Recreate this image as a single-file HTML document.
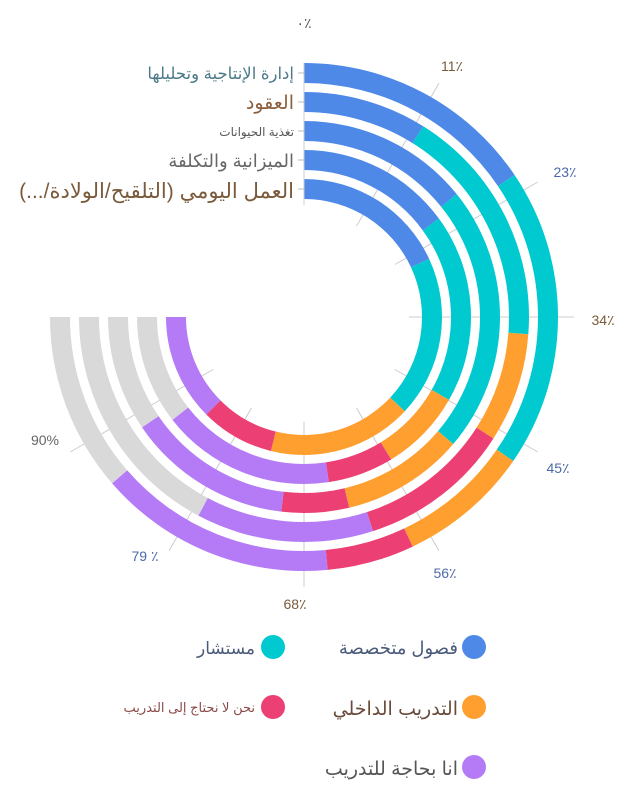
<!DOCTYPE html>
<html><head><meta charset="utf-8"><style>
body{margin:0;background:#fff;}
svg text{font-family:"Liberation Sans","Noto Sans CJK SC","DejaVu Sans",sans-serif;}
</style></head><body>
<svg id="s" width="639" height="797" viewBox="0 0 639 797" xmlns="http://www.w3.org/2000/svg">
<g id="ticks"></g>
<g id="bars"></g>
<line x1="304" y1="63" x2="304" y2="205" stroke="#ccc" stroke-width="1"/>
<g stroke="#bbb"><line x1="298" y1="73" x2="304" y2="73"/><line x1="298" y1="102" x2="304" y2="102"/><line x1="298" y1="131" x2="304" y2="131"/><line x1="298" y1="160" x2="304" y2="160"/><line x1="298" y1="189" x2="304" y2="189"/></g>
<g text-anchor="start" direction="rtl">
<text x="294" y="79" font-size="16.5" fill="#4d7a8a">إدارة الإنتاجية وتحليلها</text>
<text x="294" y="109" font-size="19" fill="#8b5e3c">العقود</text>
<text x="294" y="136" font-size="12" fill="#555">تغذية الحيوانات</text>
<text x="294" y="167" font-size="18" fill="#666">الميزانية والتكلفة</text>
<text x="294" y="198" font-size="21" fill="#7a5a3a">العمل اليومي (التلقيح/الولادة/...)</text>
</g>
<g font-size="14" text-anchor="middle">
<text x="304" y="28" fill="#555">٠٪</text>
<text x="452" y="71" fill="#7a5a3a">11٪</text>
<text x="565" y="177" fill="#4d6aa8">23٪</text>
<text x="603" y="325" fill="#7a5a3a">34٪</text>
<text x="558" y="473" fill="#4d6aa8">45٪</text>
<text x="445" y="578" fill="#4d6aa8">56٪</text>
<text x="295" y="609" fill="#7a5a3a">68٪</text>
<text x="145" y="561" fill="#4d6aa8">79 ٪</text>
<text x="45" y="445" fill="#666">90%</text>
</g>
<g>
<circle cx="474" cy="647" r="12" fill="#4e89e8"/>
<circle cx="273" cy="647" r="12" fill="#00c9d0"/>
<circle cx="474" cy="707" r="12" fill="#ff9f2f"/>
<circle cx="273" cy="707" r="12" fill="#ec3f74"/>
<circle cx="474" cy="767" r="12" fill="#b57bf6"/>
</g>
<g text-anchor="start" direction="rtl">
<text x="458" y="654" font-size="18" fill="#4a5a7a">فصول متخصصة</text>
<text x="255" y="654" font-size="17" fill="#4a5a7a">مستشار</text>
<text x="458" y="715" font-size="19" fill="#6a4a3a">التدريب الداخلي</text>
<text x="255" y="712" font-size="13" fill="#8b4a4a">نحن لا نحتاج إلى التدريب</text>
<text x="458" y="775" font-size="19" fill="#555">انا بحاجة للتدريب</text>
</g>
</svg>
<script>
var cx=304,cy=317,NS="http://www.w3.org/2000/svg";
function pt(r,v){var a=v*2*Math.PI/135;return [cx+r*Math.sin(a),cy-r*Math.cos(a)];}
function arc(r0,r1,v0,v1){var p0=pt(r1,v0),p1=pt(r1,v1),p2=pt(r0,v1),p3=pt(r0,v0);
var large=((v1-v0)*360/135)>180?1:0;
return "M"+p0+" A"+r1+","+r1+" 0 "+large+" 1 "+p1+" L"+p2+" A"+r0+","+r0+" 0 "+large+" 0 "+p3+"Z";}
var cols=["#4e89e8","#00c9d0","#ff9f2f","#ec3f74","#b57bf6","#d9d9d9"];
var rings=[[0,21,46.7,58,65.5,85.9,101.25],[0,12,35.4,46,60.8,78,101.25],[0,19.2,48.9,62.5,70,88.4,101.25],[0,20.2,44.9,55.7,64.3,87,101.25],[0,24.4,49.9,72.7,84.4,101.25,101.25]];
var g=document.getElementById("bars"),t=document.getElementById("ticks");
for(var k=1;k<9;k++){var a=pt(105,k*11.25),b=pt(270,k*11.25);var l=document.createElementNS(NS,"line");
l.setAttribute("x1",a[0]);l.setAttribute("y1",a[1]);l.setAttribute("x2",b[0]);l.setAttribute("y2",b[1]);l.setAttribute("stroke","#ccc");t.appendChild(l);}
for(var i=0;i<5;i++){var ro=254-29*i,ri=ro-20;var s=rings[i];
for(var j=0;j<6;j++){if(s[j+1]-s[j]<0.01)continue;var p=document.createElementNS(NS,"path");
p.setAttribute("d",arc(ri,ro,s[j],s[j+1]));p.setAttribute("fill",cols[j]);g.appendChild(p);}}
</script>
</body></html>
